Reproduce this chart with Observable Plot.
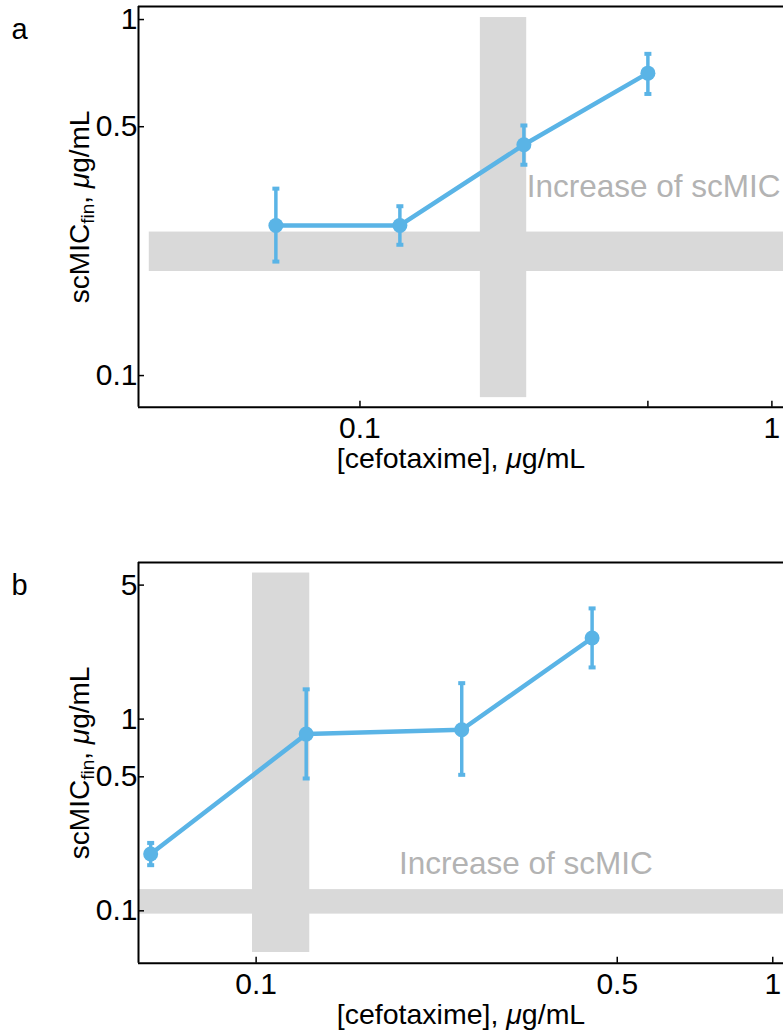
<!DOCTYPE html>
<html><head><meta charset="utf-8">
<script src="https://cdn.jsdelivr.net/npm/d3@7"></script>
<script src="https://cdn.jsdelivr.net/npm/@observablehq/plot@0.6"></script>
<style>
body{margin:0;background:#fff;width:783px;height:1032px;position:relative;overflow:hidden;font-family:"Liberation Sans",Arial,sans-serif}
.panel{position:absolute;left:0}
.panel svg{display:block}
</style></head><body>
<div id="pa" class="panel" style="top:0px"></div>
<div id="pb" class="panel" style="top:555.7px"></div>
<script>
// ---------- data ----------
const concA = [0.0625, 0.125, 0.25, 0.5];
const micA  = [0.264, 0.264, 0.445, 0.707];
const loA   = [0.209, 0.233, 0.391, 0.618];
const hiA   = [0.335, 0.299, 0.504, 0.801];

const concB = [0.0625, 0.125, 0.25, 0.447];
const micB  = [0.198, 0.835, 0.88, 2.65];
const loB   = [0.173, 0.49, 0.512, 1.86];
const hiB   = [0.226, 1.43, 1.54, 3.78];

const xTicksA = [0.1, 0.5, 1];
const yTicksA = [0.1, 0.5, 1];
const xTicksB = [0.1, 0.5, 1];
const yTicksB = [0.1, 0.5, 1, 5];

const xDomainA = [0.029, 1.067];
const yDomainA = [0.0815, 1.088];
const xDomainB = [0.0592, 1.049];
const yDomainB = [0.0533, 6.56];

// shaded bands: [x1, x2, y1, y2]
const hBandA = [0.0308, 1.067, 0.196, 0.253];
const vBandA = [0.196, 0.254, 0.0867, 1.013];
const hBandB = [0.0592, 1.049, 0.0961, 0.129];
const vBandB = [0.0984, 0.127, 0.0606, 5.78];

const noteText = "Increase of scMIC";
const noteA = [0.254, 0.317];
const noteB = [0.189, 0.1565];

const xLabel = "[cefotaxime], μg/mL";
const yLabel = "scMICfin, μg/mL";

// ---------- drawing ----------
const BLUE = "#5AB4E6";
const capSymbol = {draw(ctx) { ctx.rect(-3.5, -2, 7, 4); }};

function panel(el, letter, conc, mic, lo, hi, xDomain, yDomain, xTicks, yTicks, hBand, vBand, note) {
  const W = 783, H = 476, mt = 6, ml = 138, mr = 0, mb = 69.3;
  const plotW = W - ml - mr, plotH = H - mt - mb;
  const data = conc.map((c, i) => ({x: c, y: mic[i], lo: lo[i], hi: hi[i]}));
  const caps = data.flatMap(d => [{x: d.x, y: d.lo}, {x: d.x, y: d.hi}]);
  const bands = [hBand, vBand].map(b => ({x1: b[0], x2: b[1], y1: b[2], y2: b[3]}));
  const svg = Plot.plot({
    width: W, height: H, marginTop: mt, marginLeft: ml, marginRight: mr, marginBottom: mb,
    style: {fontFamily: "'Liberation Sans', Arial, sans-serif", background: "transparent", overflow: "visible"},
    x: {type: "log", domain: xDomain, axis: null},
    y: {type: "log", domain: yDomain, axis: null},
    marks: [
      Plot.rect(bands, {x1: "x1", x2: "x2", y1: "y1", y2: "y2", fill: "#d9d9d9"}),
      Plot.text([noteText], {x: note[0], y: note[1], text: d => d, textAnchor: "start", lineAnchor: "bottom", fill: "#b3b3b3", fontSize: 31.5}),
      Plot.line(data, {x: "x", y: "y", stroke: BLUE, strokeWidth: 4.5}),
      Plot.ruleX(data, {x: "x", y1: "lo", y2: "hi", stroke: BLUE, strokeWidth: 3.5}),
      Plot.dot(caps, {x: "x", y: "y", symbol: capSymbol, fill: BLUE, stroke: null}),
      Plot.dot(data, {x: "x", y: "y", r: 7.5, fill: BLUE, stroke: null}),
      // frame (left, bottom, top)
      Plot.ruleX([xDomain[0]], {stroke: "black", strokeWidth: 2}),
      Plot.ruleY([yDomain[0]], {stroke: "black", strokeWidth: 2}),
      Plot.ruleY([yDomain[1]], {stroke: "black", strokeWidth: 2}),
      // inward ticks
      Plot.ruleX(xTicks, {x: d => d, insetTop: plotH - 6, stroke: "black", strokeWidth: 1.5}),
      Plot.ruleY(yTicks, {y: d => d, insetRight: plotW - 6, stroke: "black", strokeWidth: 1.5}),
      // tick labels
      Plot.axisX(xTicks, {anchor: "bottom", tickSize: 0, tickPadding: 9, fontSize: 30, label: null, tickFormat: d => String(d)}),
      Plot.axisY(yTicks, {anchor: "left", tickSize: 0, tickPadding: 1, fontSize: 30, label: null, tickFormat: d => String(d)}),
      // axis titles
      Plot.text([xLabel], {frameAnchor: "bottom", dy: 52, text: d => d, textAnchor: "middle", lineAnchor: "middle", fontSize: 28.5, fill: "black"}),
      Plot.text([yLabel], {frameAnchor: "left", dx: -58, rotate: -90, text: d => d, textAnchor: "middle", lineAnchor: "middle", fontSize: 28, fill: "black"}),
      // panel letter
      Plot.text([letter], {frameAnchor: "top-left", dx: -127, dy: 32, text: d => d, textAnchor: "start", lineAnchor: "bottom", fontSize: 29, fill: "black"})
    ]
  });
  // rich text: subscript and italic mu
  d3.select(svg).selectAll("text").each(function() {
    const t = d3.select(this);
    const s = this.textContent;
    if (s === yLabel) {
      t.text(null);
      t.append("tspan").text("scMIC");
      t.append("tspan").attr("font-size", 19).attr("dy", 5).text("fin");
      t.append("tspan").attr("dy", -5).text(", ");
      t.append("tspan").attr("font-style", "italic").text("μ");
      t.append("tspan").text("g/mL");
    } else if (s === xLabel) {
      t.text(null);
      t.append("tspan").text("[cefotaxime], ");
      t.append("tspan").attr("font-style", "italic").text("μ");
      t.append("tspan").text("g/mL");
    }
  });
  document.getElementById(el).appendChild(svg);
}

panel("pa", "a", concA, micA, loA, hiA, xDomainA, yDomainA, xTicksA, yTicksA, hBandA, vBandA, noteA);
panel("pb", "b", concB, micB, loB, hiB, xDomainB, yDomainB, xTicksB, yTicksB, hBandB, vBandB, noteB);
</script>
</body></html>
